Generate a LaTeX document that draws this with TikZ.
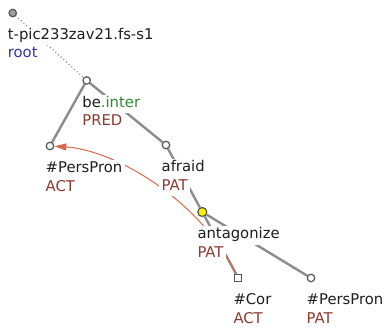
\documentclass[tikz,border=0pt]{standalone}
\usepackage{fontspec}
\setmainfont{DejaVu Sans}
\usetikzlibrary{calc,arrows.meta,backgrounds}

\definecolor{edgegray}{HTML}{8C8C8C}
\definecolor{nodeline}{HTML}{555555}
\definecolor{lemmacol}{HTML}{1E1E1E}
\definecolor{functcol}{HTML}{8B3A2E}
\definecolor{inflcol}{HTML}{2E8B2E}
\definecolor{rootcol}{HTML}{3434A8}
\definecolor{corefcol}{HTML}{D8684A}

\begin{document}
\begin{tikzpicture}[x=1pt, y=-1pt,
  font=\fontsize{14.8}{18}\selectfont,
  tnode/.style={circle, draw=nodeline, fill=white, line width=1.2pt, inner sep=0pt, minimum size=7.5pt},
  rootnode/.style={tnode, fill=gray!75},
  focnode/.style={tnode, fill=yellow, minimum size=9pt},
  cornode/.style={rectangle, draw=nodeline, fill=white, line width=1.2pt, inner sep=0pt, minimum size=7pt},
  lbl/.style={anchor=base west, fill=white, inner xsep=2.5pt, inner ysep=1.5pt, text height=11pt, text depth=4.5pt, text=lemmacol},
  fun/.style={lbl, text=functcol},
  edge/.style={draw=edgegray, line width=2.4pt},
  rootedge/.style={draw=edgegray, line width=1.6pt, line cap=round, dash pattern=on 0pt off 3.6pt},
  coref/.style={draw=corefcol, line width=1pt, -{Triangle[length=12pt, width=7pt]}},
  ]
  \useasboundingbox (0,0) rectangle (388,329);

  % tree nodes
  \node[rootnode] (root)    at (12.7,13)  {};
  \node[tnode]    (be)      at (86.7,80.5) {};
  \node[tnode]    (actpron) at (50,146)  {};
  \node[tnode]    (afraid)  at (166,145)  {};
  \node[focnode]  (antag)   at (202.3,212) {};
  \node[cornode]  (cor)     at (238.3,278) {};
  \node[tnode]    (patpron) at (311,278)  {};

  % labels
  \node[lbl] (root-t) at ($(root)+(-7.5,26.5)$) {t-pic233zav21.fs-s1};
  \node[lbl, text=rootcol] (root-f) at ($(root)+(-7.5,45)$) {root};
  \node[lbl] (be-t) at ($(be)+(-7,26.5)$) {be\textcolor{inflcol}{.inter}};
  \node[fun] (be-f) at ($(be)+(-7,45)$) {PRED};
  \node[lbl] (actpron-t) at ($(actpron)+(-7,26.5)$) {\#PersPron};
  \node[fun] (actpron-f) at ($(actpron)+(-7,45)$) {ACT};
  \node[lbl] (afraid-t) at ($(afraid)+(-7,26.5)$) {afraid};
  \node[fun] (afraid-f) at ($(afraid)+(-7,45)$) {PAT};
  \node[lbl] (antag-t) at ($(antag)+(-7.5,26.5)$) {antagonize};
  \node[fun] (antag-f) at ($(antag)+(-7.5,45)$) {PAT};
  \node[lbl] (cor-t) at ($(cor)+(-7.5,26.5)$) {\#Cor};
  \node[fun] (cor-f) at ($(cor)+(-7.5,45)$) {ACT};
  \node[lbl] (patpron-t) at ($(patpron)+(-7,26.5)$) {\#PersPron};
  \node[fun] (patpron-f) at ($(patpron)+(-7,45)$) {PAT};

  \begin{scope}[on background layer]
    \draw[rootedge] (root) -- (be);
    \draw[edge] (be) -- (actpron);
    \draw[edge] (be) -- (afraid);
    \draw[edge] (afraid) -- (antag);
    \draw[edge] (antag) -- (cor);
    \draw[edge] (antag) -- (patpron);
    % coreference
    \draw[coref] (cor) .. controls (200,200) and (115,150) .. (actpron);
  \end{scope}
\end{tikzpicture}
\end{document}
